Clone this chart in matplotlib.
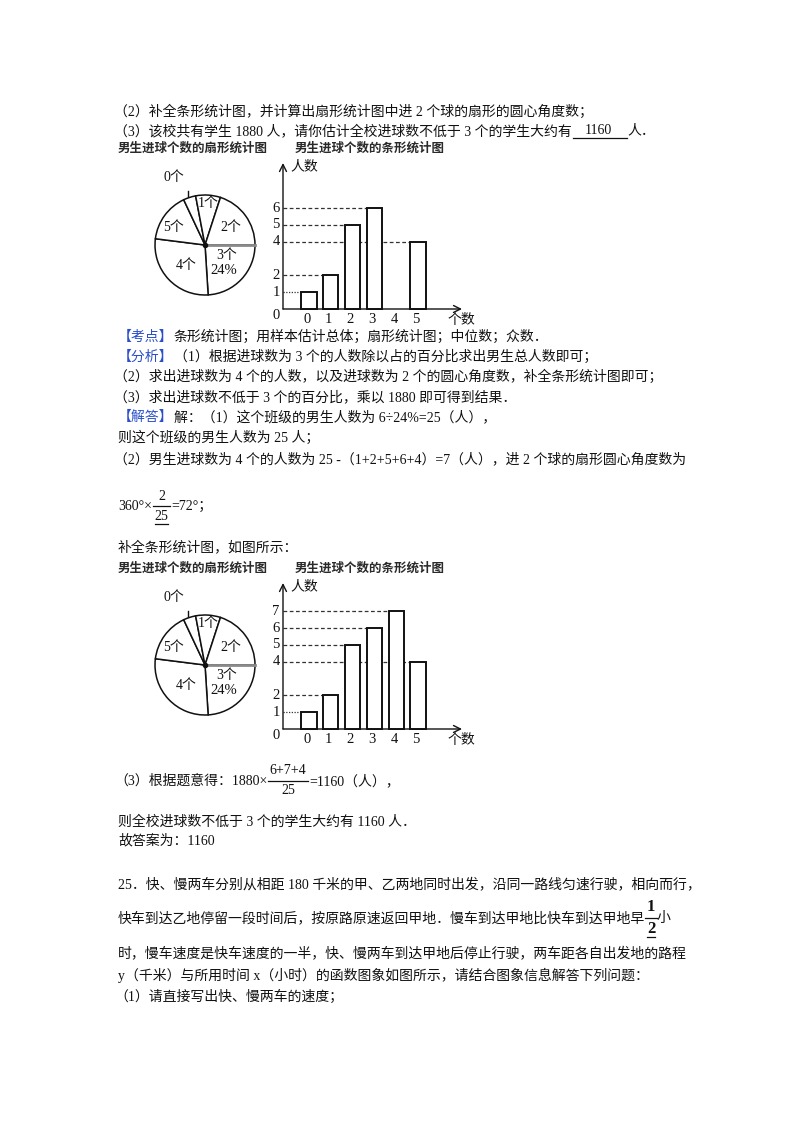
import matplotlib
matplotlib.use('Agg')
import matplotlib.pyplot as plt

# data
goals = [0, 1, 2, 3, 4, 5]
boys_given = [1, 2, 5, 6, None, 4]    # first bar chart, the 4-goal bar is missing
boys_full = [1, 2, 5, 6, 7, 4]        # completed bar chart
pie_names = ['0个', '1个', '2个', '3个', '4个', '5个']
pie_order = [3, 4, 5, 0, 1, 2]        # clockwise from 3 o'clock

W, H = 800, 1132
FAM = ['Liberation Serif', 'Noto Sans CJK SC']
FS = 10
K = '#111111'
BLUE = '#2a4fc8'

fig = plt.figure(figsize=(W / 100, H / 100), dpi=100)
page = fig.add_axes([0, 0, 1, 1])
page.set_xlim(0, W)
page.set_ylim(H, 0)
page.axis('off')
rend = fig.canvas.get_renderer()


def width(s, **kw):
    t = page.text(0, 0, s, **kw)
    w = t.get_window_extent(renderer=rend).width
    t.remove()
    return w


def put(x, y, parts, fs=FS):
    for s, c in parts:
        kw = dict(fontsize=fs, family=FAM, color=c)
        page.text(x, y, s, va='center', ha='left', **kw)
        x += width(s, **kw)
    return x


def frac(x, y, num, den, fs=FS, dy=10, weight='normal', under=False):
    kw = dict(fontsize=fs, family=FAM, color=K, weight=weight)
    wn, wd = width(num, **kw), width(den, **kw)
    w = max(wn, wd) + 3
    page.text(x + w / 2, y - dy, num, ha='center', va='center', **kw)
    page.text(x + w / 2, y + dy, den, ha='center', va='center', **kw)
    page.plot([x, x + w], [y, y], color=K, lw=0.9)
    if under:
        page.plot([x + w / 2 - wd / 2, x + w / 2 + wd / 2], [y + dy + 8] * 2, color=K, lw=0.9)
    return x + w


# ---- text ----
put(114, 112, [('（2）补全条形统计图，并计算出扇形统计图中进 2 个球的扇形的圆心角度数；', K)])
xe = put(114, 131, [('（3）该校共有学生 1880 人，请你估计全校进球数不低于 3 个的学生大约有', K)])
page.plot([xe + 1, xe + 55], [138, 138], color=K, lw=0.9)
page.text(xe + 27, 131, '1160', fontsize=FS, family=FAM, color=K, ha='center', va='center')
put(xe + 56, 131, [('人．', K)])

put(118, 337, [('【考点】', BLUE), ('条形统计图；用样本估计总体；扇形统计图；中位数；众数．', K)])
put(118, 357, [('【分析】', BLUE), ('（1）根据进球数为 3 个的人数除以占的百分比求出男生总人数即可；', K)])
put(114, 377, [('（2）求出进球数为 4 个的人数，以及进球数为 2 个的圆心角度数，补全条形统计图即可；', K)])
put(114, 397, [('（3）求出进球数不低于 3 个的百分比，乘以 1880 即可得到结果．', K)])
put(118, 417, [('【解答】', BLUE), ('解：（1）这个班级的男生人数为 6÷24%=25（人），', K)])
put(118, 438, [('则这个班级的男生人数为 25 人；', K)])
put(114, 459, [('（2）男生进球数为 4 个的人数为 25 -（1+2+5+6+4）=7（人），进 2 个球的扇形圆心角度数为', K)])
x = put(118, 506, [('360°×', K)])
x = frac(x + 1, 506, '2', '25', under=True)
put(x + 1, 506, [('=72°；', K)])
put(118, 547, [('补全条形统计图，如图所示：', K)])

x = put(114, 781, [('（3）根据题意得：1880×', K)])
x = frac(x + 1, 781, '6+7+4', '25')
put(x + 1, 781, [('=1160（人），', K)])
put(118, 822, [('则全校进球数不低于 3 个的学生大约有 1160 人．', K)])
put(118, 841, [('故答案为：1160', K)])

put(118, 884, [('25．快、慢两车分别从相距 180 千米的甲、乙两地同时出发，沿同一路线匀速行驶，相向而行，', K)])
x = put(118, 918, [('快车到达乙地停留一段时间后，按原路原速返回甲地．慢车到达甲地比快车到达甲地早', K)])
x = frac(x, 918, '1', '2', fs=12, dy=11, weight='bold', under=True)
put(x, 918, [('小', K)])
put(118, 953, [('时，慢车速度是快车速度的一半，快、慢两车到达甲地后停止行驶，两车距各自出发地的路程', K)])
put(118, 975, [('y（千米）与所用时间 x（小时）的函数图象如图所示，请结合图象信息解答下列问题：', K)])
put(114, 997, [('（1）请直接写出快、慢两车的速度；', K)])


# ---- charts ----
def pie_chart(cy):
    cx, r = 205, 50
    ax = fig.add_axes([(cx - 1.3 * r) / W, 1 - (cy + 1.3 * r) / H, 2.6 * r / W, 2.6 * r / H])
    ax.pie([boys_full[i] for i in pie_order], startangle=0, counterclock=False,
           colors=['white'] * 6, wedgeprops=dict(edgecolor=K, linewidth=1.1))
    ax.plot([0, 1], [0, 0], color='#8a8a8a', lw=2)
    ax.plot(0, 0, 'o', color=K, ms=3)
    ax.set_xlim(-1.3, 1.3)
    ax.set_ylim(-1.3, 1.3)
    ax.axis('off')
    # labels go on the pie axes (so they sit above the white wedges), placed in page pixels
    spots = {0: (174, -67), 1: (208, -42), 2: (231, -17), 5: (174, -18), 4: (186, 20), 3: (227, 10)}
    for i, (px, dy) in spots.items():
        ax.text(px, cy + dy, pie_names[i], transform=page.transData, fontsize=10, family=FAM,
                color=K, ha='center', va='center', zorder=5)
    pct = boys_full[3] / sum(boys_full) * 100
    ax.text(224, cy + 26, '%d%%' % round(pct), transform=page.transData, fontsize=10.5,
            family=FAM, color=K, ha='center', va='center', zorder=5)
    page.plot([188, 188], [cy - 54, cy - 42], color=K, lw=1)


def bar_chart(base, vals):
    x0, ux, uy = 309, 21.8, 16.8
    L, R, T, B = 262, 482, base - 156, base + 24
    ax = fig.add_axes([L / W, 1 - B / H, (R - L) / W, (B - T) / H])
    ax.set_xlim((L - x0) / ux, (R - x0) / ux)
    ax.set_ylim((base - B) / uy, (base - T) / uy)
    ax.axis('off')
    xa = (283 - x0) / ux
    arrow = dict(arrowstyle='->,head_length=0.5,head_width=0.25', lw=1, color=K, shrinkA=0, shrinkB=0)
    ax.annotate('', xy=(xa, 146 / uy), xytext=(xa, 0), arrowprops=arrow)
    ax.annotate('', xy=((462 - x0) / ux, 0), xytext=(xa, 0), arrowprops=arrow)
    bw = 0.69
    xs = [g for g, v in zip(goals, vals) if v]
    hs = [v for v in vals if v]
    ax.bar(xs, hs, width=bw, facecolor='white', edgecolor=K, lw=1.4, zorder=3)
    for g, v in zip(xs, hs):
        ls = (0, (1, 1.2)) if v == 1 else (0, (3, 2))
        ax.hlines(v, xa, g - bw / 2, colors='#333333', linestyles=ls, lw=0.9)
        ax.text(xa - 0.15, v, str(v), fontsize=10.5, family=FAM, color=K, ha='right', va='center')
    ax.text(xa - 0.15, -0.36, '0', fontsize=10.5, family=FAM, color=K, ha='right', va='center')
    for g in goals:
        ax.text(g - 0.1, -0.6, str(g), fontsize=10.5, family=FAM, color=K, ha='center', va='center')
    ax.text((290 - x0) / ux, 142 / uy, '人数', fontsize=10, family=FAM, color=K, ha='left', va='center')
    ax.text((448 - x0) / ux, -0.7, '个数', fontsize=10, family=FAM, color=K, ha='left', va='center')


for top, vals in [(0, boys_given), (420, boys_full)]:
    page.text(118, 148 + top, '男生进球个数的扇形统计图', fontsize=9, family='Noto Sans CJK SC',
              weight='bold', color='#2a2a2a', ha='left', va='center')
    page.text(295, 148 + top, '男生进球个数的条形统计图', fontsize=9, family='Noto Sans CJK SC',
              weight='bold', color='#2a2a2a', ha='left', va='center')
    pie_chart(245 + top)
    bar_chart(309 + top, vals)

fig.savefig('out.png', dpi=100)
